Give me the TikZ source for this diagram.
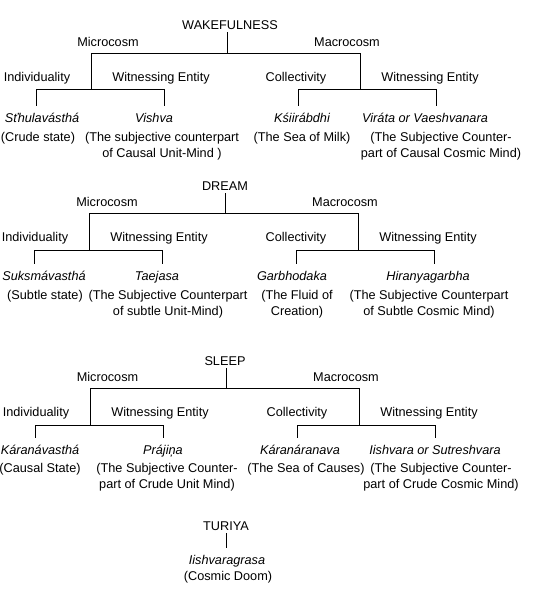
\documentclass[tikz,border=0pt]{standalone}
\usepackage{fontspec}
\setmainfont{Liberation Sans}
\newcommand\dfont{\fontsize{12.7}{16}\selectfont}
\tikzset{
  lbl/.style={anchor=base,inner sep=0pt},
  ttl/.style={lbl,text depth=3pt},
  nm/.style={lbl,font=\dfont\itshape,text height=16pt},
  desc/.style={lbl,align=center}
}
\begin{document}
\begin{tikzpicture}[x=1pt,y=-1pt,font=\dfont]
\useasboundingbox (0,0) rectangle (542,605);

% wakefulness
\node[ttl] (wake) at (230,29) {WAKEFULNESS};
\node[lbl] (wmic) at (108,46.7) {Microcosm};
\node[lbl] (wmac) at (347,46.7) {Macrocosm};
\node[lbl] (wind) at (37,81.7) {Individuality};
\node[lbl] (wwit) at (161,81.7) {Witnessing Entity};
\node[lbl] (wcol) at (296,81.7) {Collectivity};
\node[lbl] (wwit2) at (430,81.7) {Witnessing Entity};
\node[nm] (sthula) at (42,122) {Sťhulavásthá};
\node[nm] (vishva) at (154,122) {Vishva};
\node[nm] (ksiir) at (302,122) {Kśiirábdhi};
\node[nm] (virata) at (425,122) {Viráta or Vaeshvanara};
\node[desc] (sthulad) at (38,141) {(Crude state)};
\node[desc] (vishvad) at (162,157) {(The subjective counterpart\\of Causal Unit-Mind )};
\node[desc] (ksiird) at (302,141) {(The Sea of Milk)};
\node[desc] (viratad) at (441,157) {(The Subjective Counter-\\part of Causal Cosmic Mind)};
\coordinate (wtop) at (227,53);
\coordinate (wmi) at (91,53);
\coordinate (wma) at (360,53);
\coordinate (wi) at (36,89);
\coordinate (ww) at (164,89);
\coordinate (wc) at (298,89);
\coordinate (wv) at (436,89);
\draw (wtop |- wake.south) -- (wtop);
\draw (wmi) -- (wma);
\draw (wmi) -- (wmi |- wi) (wma) -- (wma |- wc);
\draw (wi) -- (ww) (wc) -- (wv);
\draw (wi) -- (wi |- sthula.north) (ww) -- (ww |- vishva.north);
\draw (wc) -- (wc |- ksiir.north) (wv) -- (wv |- virata.north);

% dream
\node[ttl] (dream) at (225,190) {DREAM};
\node[lbl] (dmic) at (107,206.7) {Microcosm};
\node[lbl] (dmac) at (345,206.7) {Macrocosm};
\node[lbl] (dind) at (35,241) {Individuality};
\node[lbl] (dwit) at (159,241) {Witnessing Entity};
\node[lbl] (dcol) at (296,241) {Collectivity};
\node[lbl] (dwit2) at (428,241) {Witnessing Entity};
\node[nm] (suksma) at (44,280) {Suksmávasthá};
\node[nm] (taejasa) at (157,280) {Taejasa};
\node[nm] (garbho) at (292,280) {Garbhodaka};
\node[nm] (hiranya) at (428,280) {Hiranyagarbha};
\node[desc] (suksmad) at (45,299) {(Subtle state)};
\node[desc] (taejasad) at (168,315) {(The Subjective Counterpart\\of subtle Unit-Mind)};
\node[desc] (garbhod) at (297,315) {(The Fluid of\\Creation)};
\node[desc] (hiranyad) at (429,315) {(The Subjective Counterpart\\of Subtle Cosmic Mind)};
\coordinate (dtop) at (225,213);
\coordinate (dmi) at (89,213);
\coordinate (dma) at (358,213);
\coordinate (di) at (34,250);
\coordinate (dw) at (162,250);
\coordinate (dc) at (296,250);
\coordinate (dv) at (434,250);
\draw (dtop |- dream.south) -- (dtop);
\draw (dmi) -- (dma);
\draw (dmi) -- (dmi |- di) (dma) -- (dma |- dc);
\draw (di) -- (dw) (dc) -- (dv);
\draw (di) -- (di |- suksma.north) (dw) -- (dw |- taejasa.north);
\draw (dc) -- (dc |- garbho.north) (dv) -- (dv |- hiranya.north);

% sleep
\node[ttl] (sleep) at (225,365) {SLEEP};
\node[lbl] (smic) at (107.5,381.7) {Microcosm};
\node[lbl] (smac) at (346,381.7) {Macrocosm};
\node[lbl] (sind) at (36,416) {Individuality};
\node[lbl] (swit) at (160,416) {Witnessing Entity};
\node[lbl] (scol) at (297,416) {Collectivity};
\node[lbl] (swit2) at (429,416) {Witnessing Entity};
\node[nm] (karanav) at (40,454) {Káranávasthá};
\node[nm] (prajina) at (163,454) {Prájiņa};
\node[nm] (karanar) at (300,454) {Káranáranava};
\node[nm] (iishvara) at (435,454) {Iishvara or Sutreshvara};
\node[desc] (karanavd) at (40,472) {(Causal State)};
\node[desc] (prajinad) at (167,488) {(The Subjective Counter-\\part of Crude Unit Mind)};
\node[desc] (karanard) at (306,472) {(The Sea of Causes)};
\node[desc] (iishvarad) at (441,488) {(The Subjective Counter-\\part of Crude Cosmic Mind)};
\coordinate (stop) at (226,388);
\coordinate (smi) at (90,388);
\coordinate (sma) at (359,388);
\coordinate (si) at (35,425);
\coordinate (sw) at (163,425);
\coordinate (sc) at (297,425);
\coordinate (sv) at (435,425);
\draw (stop |- sleep.south) -- (stop);
\draw (smi) -- (sma);
\draw (smi) -- (smi |- si) (sma) -- (sma |- sc);
\draw (si) -- (sw) (sc) -- (sv);
\draw (si) -- (si |- karanav.north) (sw) -- (sw |- prajina.north);
\draw (sc) -- (sc |- karanar.north) (sv) -- (sv |- iishvara.north);

% turiya
\node[ttl] (turiya) at (226,530) {TURIYA};
\node[nm] (grasa) at (227,564) {Iishvaragrasa};
\node[desc] (grasad) at (228,580) {(Cosmic Doom)};
\draw (turiya.south) -- (turiya.south |- grasa.north);
\end{tikzpicture}
\end{document}
